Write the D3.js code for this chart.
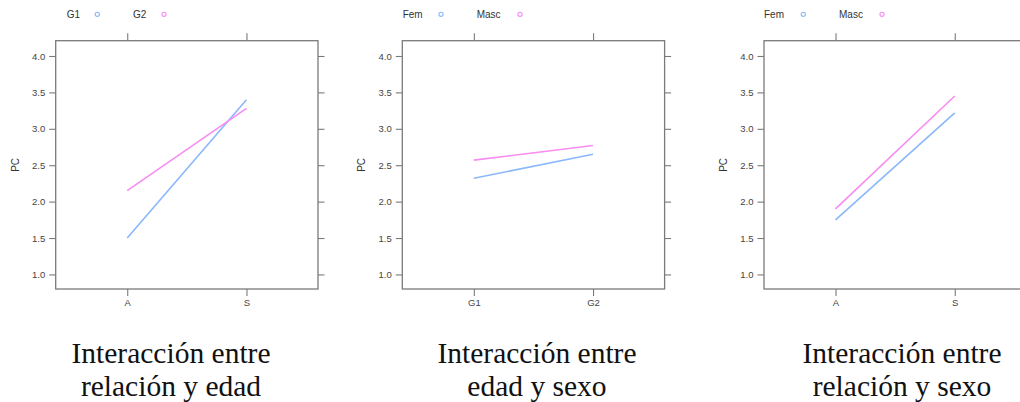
<!DOCTYPE html>
<html><head><meta charset="utf-8">
<script src="https://cdn.jsdelivr.net/npm/d3@7"></script>
<style>body{margin:0;background:#fff}svg{display:block}</style>
</head><body>
<svg id="c" width="1020" height="402"></svg>
<script>
// ---- data ----
const xCats1 = ["A", "S"];
const xCats2 = ["G1", "G2"];
const xCats3 = ["A", "S"];
const series1 = ["G1", "G2"];
const series2 = ["Fem", "Masc"];
const series3 = ["Fem", "Masc"];
const p1G1 = [1.50, 3.40];
const p1G2 = [2.15, 3.28];
const p2Fem = [2.32, 2.65];
const p2Masc = [2.57, 2.77];
const p3Fem = [1.75, 3.22];
const p3Masc = [1.90, 3.45];
const yTicks = [1.0, 1.5, 2.0, 2.5, 3.0, 3.5, 4.0];
const yDomain = [0.8, 4.21];
const yLabel = "PC";
const title1 = ["Interacción entre", "relación y edad"];
const title2 = ["Interacción entre", "edad y sexo"];
const title3 = ["Interacción entre", "relación y sexo"];

// ---- layout ----
const colors = ["#8ab8fb", "#f78cf2"];
const panels = [
  {left: 55.7, cats: xCats1, series: series1, vals: [p1G1, p1G2], title: title1, titleX: 171,
   legend: [[66.7, 97.3], [133, 164]]},
  {left: 402.3, cats: xCats2, series: series2, vals: [p2Fem, p2Masc], title: title2, titleX: 537,
   legend: [[402.7, 441], [476.7, 520]]},
  {left: 764, cats: xCats3, series: series3, vals: [p3Fem, p3Masc], title: title3, titleX: 902,
   legend: [[764, 803.3], [839, 882]]}
];
const W = 262.3, pTop = 40.7, pBottom = 289;
const svg = d3.select("#c");
const axisCol = "#7a7a7a", textCol = "#444";

panels.forEach(p => {
  const g = svg.append("g");
  const x = d3.scalePoint().domain(p.cats).range([p.left, p.left + W]).padding(0.6);
  const y = d3.scaleLinear().domain(yDomain).range([pBottom, pTop]);

  const styleAxis = sel => {
    sel.select(".domain").remove();
    sel.selectAll(".tick line").attr("stroke", axisCol).attr("stroke-width", 1.1);
    sel.selectAll(".tick text").attr("fill", textCol).attr("font-family", "Liberation Sans, Arial, sans-serif").attr("font-size", 9.5);
  };
  g.append("g").attr("transform", `translate(${p.left},0)`)
    .call(d3.axisLeft(y).tickValues(yTicks).tickFormat(d3.format(".1f")).tickSize(6.5).tickPadding(4))
    .call(styleAxis);
  g.append("g").attr("transform", `translate(${p.left + W},0)`)
    .call(d3.axisRight(y).tickValues(yTicks).tickFormat("").tickSize(6.5))
    .call(styleAxis);
  g.append("g").attr("transform", `translate(0,${pBottom})`)
    .call(d3.axisBottom(x).tickSize(7).tickPadding(3))
    .call(styleAxis);
  g.append("g").attr("transform", `translate(0,${pTop})`)
    .call(d3.axisTop(x).tickFormat("").tickSize(7.5))
    .call(styleAxis);

  g.append("rect").attr("x", p.left).attr("y", pTop).attr("width", W).attr("height", pBottom - pTop)
    .attr("fill", "none").attr("stroke", axisCol).attr("stroke-width", 1.3);

  g.append("text").attr("transform", `translate(${p.left - 37},${(pTop + pBottom) / 2}) rotate(-90)`)
    .attr("text-anchor", "middle").attr("font-family", "Liberation Sans, Arial, sans-serif")
    .attr("font-size", 10).attr("fill", "#333").text(yLabel);

  const line = d3.line().x((d, i) => x(p.cats[i])).y(d => y(d));
  p.vals.forEach((v, k) => {
    g.append("path").datum(v).attr("d", line).attr("fill", "none")
      .attr("stroke", colors[k]).attr("stroke-width", 1.6);
  });

  p.series.forEach((s, k) => {
    g.append("text").attr("x", p.legend[k][0]).attr("y", 14.3).attr("dy", "0.35em")
      .attr("font-family", "Liberation Sans, Arial, sans-serif").attr("font-size", 10)
      .attr("fill", "#333").text(s);
    g.append("circle").attr("cx", p.legend[k][1]).attr("cy", 14.3).attr("r", 2.1)
      .attr("fill", "none").attr("stroke", colors[k]).attr("stroke-width", 1.1);
  });

  p.title.forEach((t, k) => {
    g.append("text").attr("x", p.titleX).attr("y", 363 + k * 33).attr("text-anchor", "middle")
      .attr("font-family", "Liberation Serif, Times New Roman, serif").attr("font-size", 29.5)
      .attr("fill", "#111").text(t);
  });
});
</script>
</body></html>
